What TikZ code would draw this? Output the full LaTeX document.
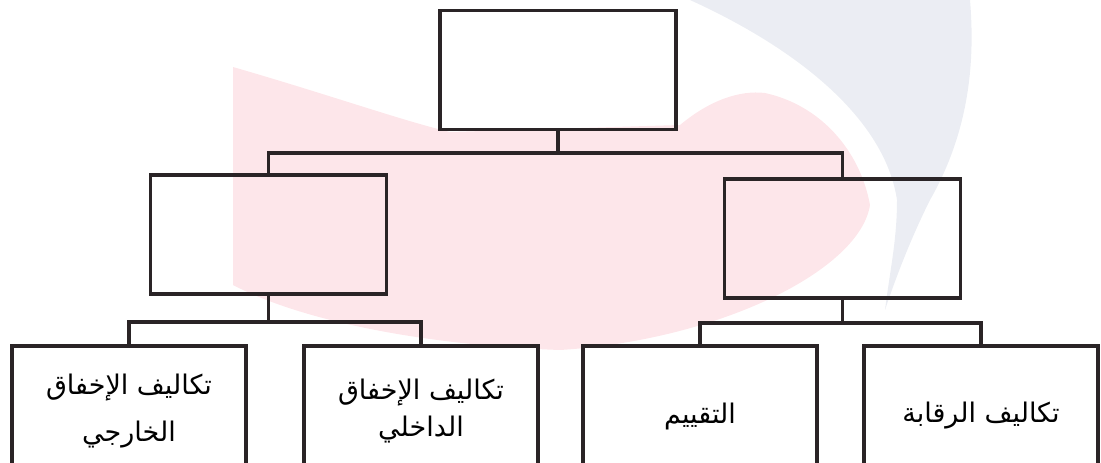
\documentclass[tikz,border=0pt]{standalone}
\usepackage{fontspec}
\newfontfamily\arabicfont[Script=Arabic]{DejaVu Sans}
\TeXXeTstate=1
\usetikzlibrary{positioning}

\definecolor{inkline}{HTML}{2A2426}
\definecolor{wmpink}{HTML}{FDE6EA}
\definecolor{wmgrey}{HTML}{EBEDF3}

\tikzset{
  box/.style={draw=inkline, line width=3.2pt, minimum width=236pt, minimum height=119pt, inner sep=0pt},
  leaf/.style={box, fill=white, minimum width=234pt, minimum height=140pt, align=center,
    font=\arabicfont\fontsize{27}{40}\selectfont},
  conn/.style={draw=inkline, line width=3.2pt}
}

\begin{document}
\begin{tikzpicture}[x=1pt, y=-1pt, on grid]
    \useasboundingbox (0,0) rectangle (1101,463);
    \clip (0,0) rectangle (1101,463);

    % filigrane
    \fill[wmpink] (233,67) .. controls (330,95) and (400,120) .. (450,132) -- (680,125)
      .. controls (710,100) and (740,90) .. (765,93)
      .. controls (820,105) and (860,150) .. (870,205)
      .. controls (860,270) and (720,340) .. (560,350)
      .. controls (420,345) and (300,320) .. (233,285) -- cycle;
    \fill[wmgrey] (690,0) -- (970,0) .. controls (975,60) and (970,130) .. (930,200)
      .. controls (910,240) and (895,280) .. (885,310)
      .. controls (890,270) and (897,240) .. (897,200)
      .. controls (885,120) and (800,50) .. (690,0) -- cycle;

    % boites
    \node[box] (root) at (558,70) {};
    \node[box, below left=164.5pt and 289.5pt of root] (failure) {};
    \node[box, below right=168.5pt and 284.5pt of root] (control) {};
    \node[leaf, minimum height=130pt, below left=176.5pt and 139.5pt of failure] (extfail)
      {\beginR تكاليف الإخفاق\endR\\[7pt]\beginR الخارجي\endR};
    \node[leaf, minimum height=130pt, below right=176.5pt and 152.5pt of failure] (intfail)
      {\beginR تكاليف الإخفاق\endR\\[-3pt]\beginR الداخلي\endR};
    \node[leaf, below left=177.5pt and 142.5pt of control] (apprais)
      {\beginR التقييم\endR};
    \node[leaf, below right=177.5pt and 138.5pt of control] (inspect)
      {\beginR تكاليف الرقابة\endR};

    % liaisons
    \draw[conn] (root.south) -- (root.south |- 0,153);
    \draw[conn] (failure.north) |- (root.south |- 0,153) -| (control.north);
    \draw[conn] (failure.south) -- (failure.south |- 0,322);
    \draw[conn] (extfail.north) |- (failure.south |- 0,322) -| (intfail.north);
    \draw[conn] (control.south) -- (control.south |- 0,323);
    \draw[conn] (apprais.north) |- (control.south |- 0,323) -| (inspect.north);

\end{tikzpicture}
\end{document}
